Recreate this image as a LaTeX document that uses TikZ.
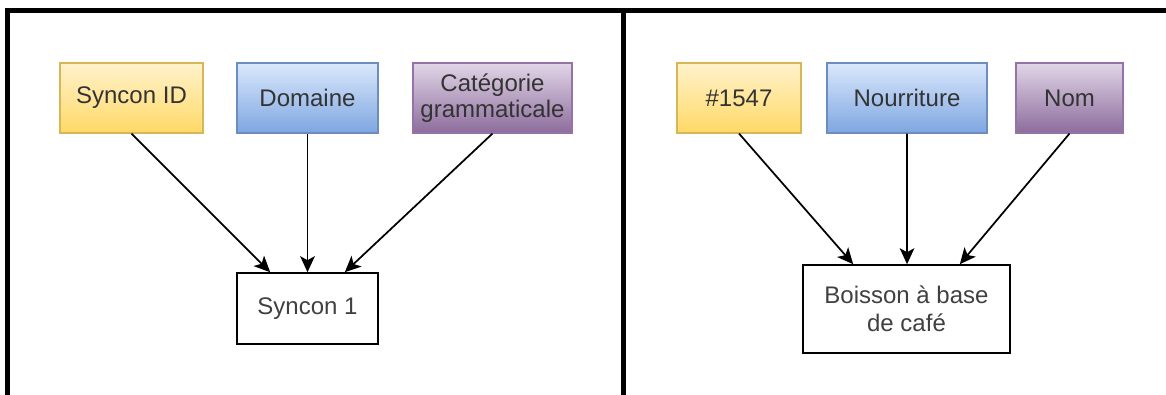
\documentclass[tikz,border=0pt]{standalone}
\usepackage{fontspec}
\setmainfont{Liberation Sans}
\usetikzlibrary{arrows.meta}

\definecolor{yelTop}{HTML}{FFF2CC}
\definecolor{yelBot}{HTML}{FFD966}
\definecolor{yelLine}{HTML}{D6B656}
\definecolor{bluTop}{HTML}{DAE8FC}
\definecolor{bluBot}{HTML}{7EA6E0}
\definecolor{bluLine}{HTML}{6C8EBF}
\definecolor{purTop}{HTML}{E1D5E7}
\definecolor{purBot}{HTML}{8C6C9C}
\definecolor{purLine}{HTML}{9673A6}

\begin{document}
\begin{tikzpicture}[x=0.75pt,y=-0.75pt]

  \tikzstyle{field} = [draw, line width=0.8pt, inner sep=0pt, minimum height=52.5pt, align=center, text=black!80, font=\fontsize{18}{19.5}\selectfont]
  \tikzstyle{idfield} = [field, draw=yelLine, top color=yelTop, bottom color=yelBot]
  \tikzstyle{domfield} = [field, draw=bluLine, top color=bluTop, bottom color=bluBot]
  \tikzstyle{catfield} = [field, draw=purLine, top color=purTop, bottom color=purBot]
  \tikzstyle{syncon} = [draw, line width=1.2pt, fill=white, inner sep=0pt, align=center, text=black!75, font=\fontsize{18}{21}\selectfont]
  \tikzstyle{link} = [line width=1.3pt, -{Stealth[length=12pt,width=11pt,inset=3pt]}]

  \useasboundingbox (0,0) rectangle (1166,394);

  % frame
  \draw[line width=3.75pt] (7.5,400) -- (7.5,10.5) -- (1170,10.5);
  \draw[line width=3.75pt] (623.5,10.5) -- (623.5,400);

  % left: generic syncon
  \node[idfield, minimum width=107.25pt] (sid) at (131.5,98) {Syncon ID};
  \node[domfield, minimum width=105.75pt] (dom) at (307.5,98) {Domaine};
  \node[catfield, minimum width=119.25pt] (cat) at (492.5,98) {Catégorie\\grammaticale};

  \node[syncon, minimum width=105.75pt, minimum height=53.25pt] (syn) at (307.5,308.5) {Syncon 1};

  \draw[link] (sid.south) -- ([xshift=-28pt]syn.north);
  \draw[link] (dom.south) -- (syn.north);
  \draw[link] (cat.south) -- ([xshift=28pt]syn.north);

  % right: example syncon
  \node[idfield, minimum width=93pt] (num) at (739,98) {\#1547};
  \node[domfield, minimum width=120pt] (food) at (907,98) {Nourriture};
  \node[catfield, minimum width=80.25pt] (noun) at (1069.5,98) {Nom};

  \node[syncon, minimum width=155.25pt, minimum height=66pt] (cafe) at (906.5,309) {Boisson à base\\de café};

  \draw[link] (num.south) -- ([xshift=-40pt]cafe.north);
  \draw[link] (food.south) -- ([xshift=0.4pt]cafe.north);
  \draw[link] (noun.south) -- ([xshift=40pt]cafe.north);

\end{tikzpicture}
\end{document}
